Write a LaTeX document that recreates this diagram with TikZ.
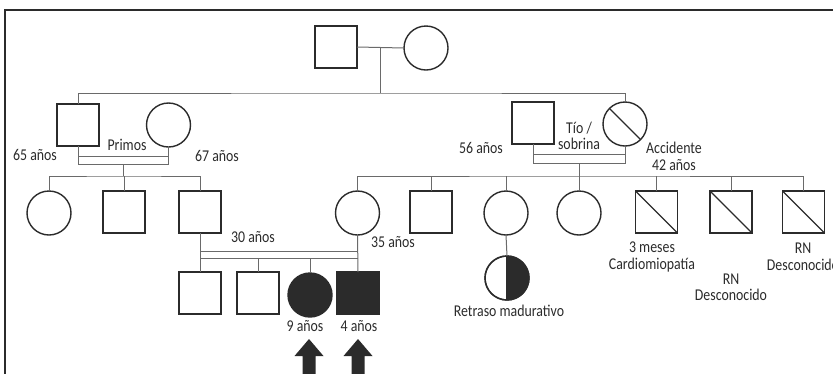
\documentclass[tikz,border=0pt]{standalone}
\usepackage{fontspec}
\setmainfont{Carlito}[FakeStretch=0.84]
\usetikzlibrary{calc}
\definecolor{ink}{HTML}{2B2B2B}
\definecolor{wire}{HTML}{6A6A6A}
\tikzset{
  person/.style={draw=ink, line width=1.4pt, inner sep=0pt, outer sep=0pt},
  male/.style={person, rectangle, minimum size=42pt},
  female/.style={person, circle, minimum size=44pt},
  affected/.style={fill=ink},
  wireline/.style={draw=wire, line width=1pt},
  lbl/.style={font=\fontsize{16.5}{16.5}\selectfont, text=ink, inner sep=0pt, align=center},
}
\begin{document}
\begin{tikzpicture}[x=1pt, y=-1pt]
\useasboundingbox (0,0) rectangle (833,373);
% frame
\draw[ink, line width=1.2pt] (840,10) -- (5,10) -- (5,380);

% generation I
\node[male]   (gf) at (336,47) {};
\node[female] (gm) at (426,48) {};
% generation II
\node[male]   (a) at (78,125) {};
\node[female] (b) at (168.5,125) {};
\node[male]   (c) at (533,123) {};
\node[female] (d) at (625,124) {};
% generation III
\node[female] (e) at (49,213) {};
\node[male]   (f) at (124,212) {};
\node[male]   (g) at (200,212) {};
\node[female] (h) at (357.5,213) {};
\node[male]   (i) at (431,212) {};
\node[female] (j) at (506,213) {};
\node[female] (k) at (579,213) {};
\node[male]   (l) at (656.5,212) {};
\node[male]   (m) at (731,212) {};
\node[male]   (n) at (803.5,212) {};
% generation IV
\node[male]   (o) at (200,293) {};
\node[male]   (p) at (258,293) {};
\node[female, affected] (q) at (310,295) {};
\node[male, affected]   (r) at (358,293) {};
\node[female] (t) at (507,278) {};

% deceased marks
\draw[ink, line width=1.4pt] (d.135) -- (d.-45);
\foreach \s in {l,m,n} \draw[ink, line width=1.4pt] (\s.north west) -- (\s.south east);
% half-affected
\fill[ink] (t.north) arc[start angle=90, end angle=-90, radius=22pt] -- cycle;
\draw[ink, line width=1.4pt] (t.north) -- (t.south);
\node[female] at (t) {};

% mating and sibship lines
\coordinate (m1) at ($(gf.east)!0.5!(gm.west)$);
\coordinate (s1) at (m1 |- 0,93);
\draw[wireline] (gf.east) -- (gm.west);
\draw[wireline] (m1) -- (s1);
\draw[wireline] (a.north) |- (s1) -| (d.north);

% cousins a-b (consanguineous)
\draw[wireline] (a.south) -- (a.south |- 0,164) -- (b.south |- 0,164) -- (b.south);
\draw[wireline] (a.south |- 0,156) -- (b.south |- 0,156);
\coordinate (m2) at (123,164);
\draw[wireline] (m2) -- (m2 |- 0,176);
\draw[wireline] (e.north) |- (m2 |- 0,176) -| (g.north);
\draw[wireline] (f.north) -- (f.north |- 0,176);

% uncle-niece c-d (consanguineous)
\draw[wireline] (c.south) -- (c.south |- 0,163) -- (d.south |- 0,163) -- (d.south);
\draw[wireline] (c.south |- 0,154) -- (d.south |- 0,154);
\coordinate (m3) at (579,163);
\draw[wireline] (m3) -- (k.north);
\draw[wireline] (h.north) |- (m3 |- 0,176) -| (n.north);
\foreach \s in {i,j,l,m} \draw[wireline] (\s.north) -- (\s.north |- 0,176);

% cousins g-h
\draw[wireline] (g.south) -- (o.north);
\draw[wireline] (h.south) -- (r.north);
\draw[wireline] (g.south |- 0,251) -- (h.south |- 0,251);
\draw[wireline] (g.south |- 0,258) -- (h.south |- 0,258);
\draw[wireline] (p.north) -- (p.north |- 0,258);
\draw[wireline] (q.north) -- (q.north |- 0,258);
% j to child
\draw[wireline] (j.south) -- (t.north);

% labels
\node[lbl] (la) at (35,155) {65 años};
\node[lbl] (lab) at (127,145) {Primos};
\node[lbl] (lb) at (217,156) {67 años};
\node[lbl] (lc) at (481,148) {56 años};
\node[lbl] (lcd) at (579,136) {Tío /\\sobrina};
\node[lbl] (ld) at (674,156.5) {Accidente\\42 años};
\node[lbl] (lg) at (253,237) {30 años};
\node[lbl] (lh) at (393,242) {35 años};
\node[lbl] (ll) at (652,257) {3 meses\\Cardiomiopatía};
\node[lbl] (lm) at (731,287.5) {RN\\Desconocido};
\node[lbl] (ln) at (803,257) {RN\\Desconocido};
\node[lbl] (lq) at (305,326) {9 años};
\node[lbl] (lr) at (359,326) {4 años};
\node[lbl] (lt) at (509,311) {Retraso madurativo};

% proband arrows
\foreach \x/\nm in {309/pa, 358/pb} {
  \coordinate (\nm) at (\x,339);
  \fill[ink] (\nm) -- ++(14.5,17) -- ++(-8,0) -- ++(0,30) -- ++(-13,0) -- ++(0,-30) -- ++(-8,0) -- cycle;
}
\end{tikzpicture}
\end{document}
